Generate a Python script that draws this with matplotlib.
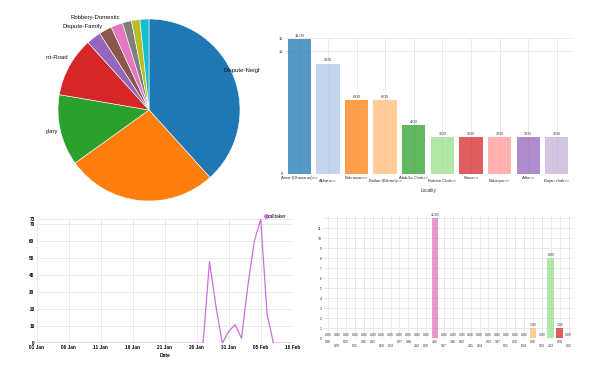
import numpy as np
import matplotlib
matplotlib.use("Agg")
import matplotlib.pyplot as plt
from matplotlib.dates import DateFormatter
from matplotlib.lines import Line2D

plt.rcParams["font.family"] = ["Liberation Sans", "DejaVu Sans"]

# ---- data ----
pie_labels = ["Dispute-Neighbour", "", "Burglary", "Accident-Road", "Dispute-Family",
              "Robbery-Domestic", "", "", "", ""]
pie_values = [38.3, 26.8, 12.6, 10.6, 2.6, 2.3, 2.1, 1.6, 1.5, 1.6]

localities = ["Amar (Dhanarua)>>", "Akhara>>", "Bahrawan>>", "Ballari (Bikram)>>", "Abdulla Chak>>",
              "Balram Chak>>", "Baisa>>", "Bakatpur>>", "Adla>>", "Bajan chak>>"]
locality_counts = [11, 9, 6, 6, 4, 3, 3, 3, 3, 3]

dates = np.arange("2018-01-01", "2018-02-11", dtype="datetime64[D]")
calltaker = [0, 0, 0, 0, 0, 0, 0, 0, 0, 0,
             0, 0, 0, 0, 0, 0, 0, 0, 0, 0,
             0, 0, 0, 0, 0, 0, 0, 48, 22, 0,
             7, 11, 3, 34, 60, 73, 17, 0, 0, 0, 0]

codes = ["030", "029", "022", "001", "145", "031", "068", "023", "027", "148", "202", "029", "200", "197",
         "146", "032", "201", "024", "003", "147", "021", "020", "004", "026", "029", "203", "028", "002"]
code_counts = [0, 0, 0, 0, 0, 0, 0, 0, 0, 0, 0, 0, 12, 0,
               0, 0, 0, 0, 0, 0, 0, 0, 0, 1, 0, 8, 1, 0]
code_rows = [0, 1, 0, 1, 0, 0, 1, 1, 0, 0, 1, 1, 0, 1,
             0, 0, 1, 1, 0, 0, 1, 0, 1, 0, 1, 1, 0, 1]

cat10 = ["#1f77b4", "#ff7f0e", "#2ca02c", "#d62728", "#9467bd",
         "#8c564b", "#e377c2", "#7f7f7f", "#bcbd22", "#17becf"]
cat20 = ["#1f77b4", "#aec7e8", "#ff7f0e", "#ffbb78", "#2ca02c", "#98df8a", "#d62728", "#ff9896",
         "#9467bd", "#c5b0d5", "#8c564b", "#c49c94", "#e377c2", "#f7b6d2", "#7f7f7f", "#c7c7c7",
         "#bcbd22", "#dbdb8d", "#17becf", "#9edae5"]

W, H = 595, 371
fig = plt.figure(figsize=(W / 100, H / 100), dpi=100)
fig.patch.set_facecolor("white")


def px_axes(left, top, right, bottom):
    return fig.add_axes([left / W, 1 - bottom / H, (right - left) / W, (bottom - top) / H])


grid_kw = dict(color="#e6e6e6", lw=0.6)

# ---- pie ----
pie_cx, pie_cy = 149, H - 110
ax = px_axes(46, 10, 260, 202)
wedges, texts = ax.pie(pie_values, labels=pie_labels, colors=cat10, startangle=90,
                       counterclock=False, center=(pie_cx, pie_cy), radius=91, labeldistance=1.05,
                       wedgeprops=dict(edgecolor="white", linewidth=0.4),
                       textprops=dict(fontsize=4.3, color="#111"))
ax.set_xlim(46, 260)
ax.set_ylim(H - 202, H - 10)
ax.set_aspect("auto")
ax.axis("off")
# nudge labels (px) like the original label layout
nudges = [(-15, 5), (0, 0), (2, 0), (3, 6), (12, 8), (17, 9), (0, 0), (0, 0), (0, 0), (0, 0)]
for t, (dx, dy) in zip(texts, nudges):
    x, y = t.get_position()
    t.set_horizontalalignment("left" if x > pie_cx else "right")
    t.set_position((x + dx, y + dy))
    t.set_clip_on(True)

# ---- locality bars ----
ax = px_axes(285, 38.3, 571.7, 174)
xs = np.arange(len(localities))
bars = ax.bar(xs, locality_counts, width=0.815, color=cat20[:len(localities)], alpha=0.75, zorder=2)
ax.bar_label(bars, fmt="%.2f", fontsize=3, padding=0.8, color="#333")
ax.set_xlim(-0.5, len(localities) - 0.48)
ax.set_ylim(0, 11.06)
ax.set_yticks([0, 10, 11.06], ["0", "10", "15"])
ax.set_xticks(xs, [("\n" + s) if i % 2 else s for i, s in enumerate(localities)])
for lab in ax.get_xticklabels():
    lab.set_linespacing(0.8)
ax.tick_params(length=0, labelsize=3, colors="#333", pad=1.5)
ax.grid(True, **grid_kw)
ax.set_axisbelow(True)
for s in ax.spines.values():
    s.set_visible(False)
ax.set_xlabel("Locality", fontsize=3.3, color="#333", labelpad=3)

# ---- calltaker line ----
ax = px_axes(36.7, 219.2, 292.7, 343.3)
ax.plot(dates, calltaker, color="#cc6ee0", lw=0.9, zorder=3)
ax.set_xlim(dates[0], dates[-1])
ax.set_ylim(0, 73)
ax.set_yticks(list(range(0, 71, 10)) + [73])
ax.set_xticks(dates[::5])
ax.xaxis.set_major_formatter(DateFormatter("%d %b"))
ax.tick_params(length=0, labelsize=3.4, pad=1.5)
for lab in ax.get_xticklabels() + ax.get_yticklabels():
    lab.set_fontweight("bold")
ax.grid(True, **grid_kw)
ax.set_axisbelow(True)
for s in ax.spines.values():
    s.set_visible(False)
ax.set_xlabel("Date", fontsize=3.5, fontweight="bold", labelpad=2)
handle = Line2D([], [], marker="o", ls="none", color="#cc6ee0", markersize=2.5)
ax.legend([handle], ["calltaker"], loc="lower left", bbox_to_anchor=(0.89, 1.0),
          frameon=False, fontsize=3.5, handlelength=0.5, handletextpad=0.2,
          borderpad=0, borderaxespad=0)

# ---- code bars ----
ax = px_axes(323.3, 215, 572.5, 338.3)
xs = np.arange(len(codes))
bars = ax.bar(xs, code_counts, width=0.75, color=[cat20[i % 20] for i in xs], alpha=0.75, zorder=2)
ax.bar_label(bars, fmt="%.2f", fontsize=2.4, padding=0.8, color="#333")
ax.set_xlim(-0.56, len(codes) - 0.56)
ax.set_ylim(0, 12.33)
ax.set_yticks(range(13), [str(i) for i in range(12)] + [""])
ax.set_xticks(xs, [("\n" + c) if r else c for c, r in zip(codes, code_rows)])
for lab in ax.get_xticklabels():
    lab.set_linespacing(0.9)
ax.tick_params(length=0, labelsize=2.5, colors="#333", pad=1.2)
ax.grid(True, **grid_kw)
ax.set_axisbelow(True)
for s in ax.spines.values():
    s.set_visible(False)

fig.savefig("out.png", dpi=100)
